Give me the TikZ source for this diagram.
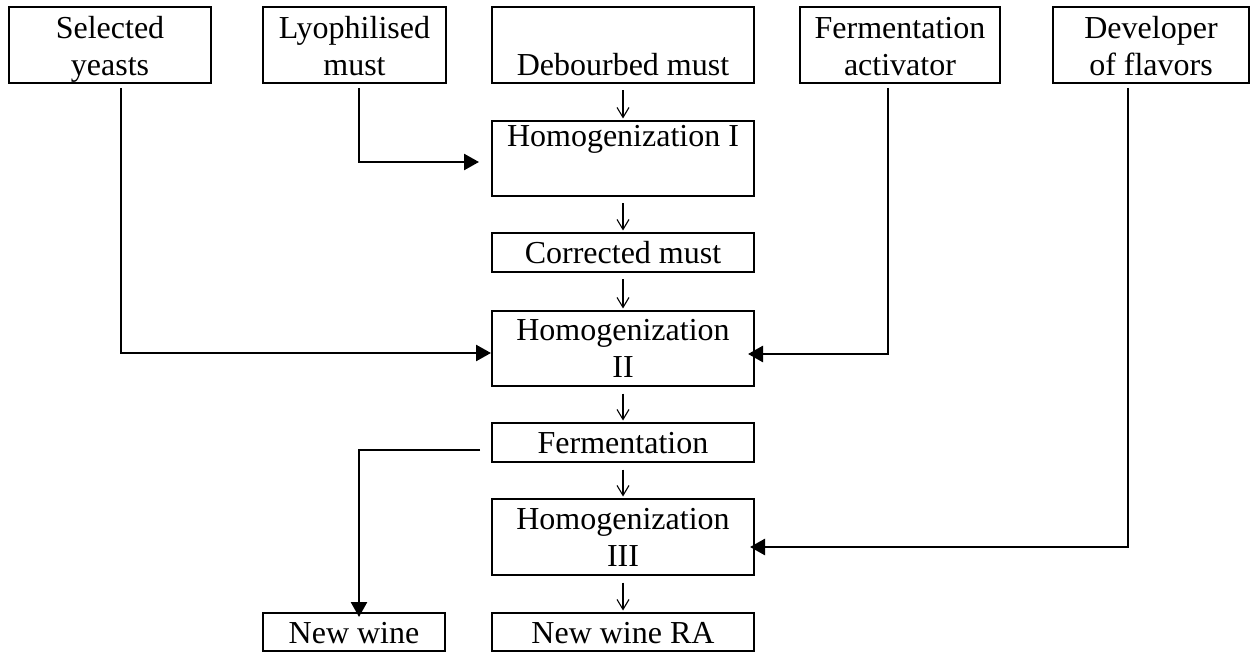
\documentclass[tikz,border=0pt]{standalone}
\usepackage{fontspec}
\setmainfont{Liberation Serif}
\usetikzlibrary{arrows.meta}

% two stacked lines, baseline on the first one
\newcommand{\twolines}[2]{\begin{tabular}[t]{@{}c@{}}#1\\#2\end{tabular}}

\tikzset{
  stage/.style={draw, line width=2.3pt, inner sep=0pt, outer sep=0pt,
    font=\fontsize{32}{37}\selectfont},
  feed/.style={stage, minimum height=0pt, text height=32pt, text depth=44pt},
  link/.style={line width=2.6pt, -{Triangle[length=15pt,width=16pt]}},
  flow/.style={line width=1.1pt, -{Straight Barb[length=10pt,width=12pt]},
    shorten <=7.5pt, shorten >=2.5pt},
}

\begin{document}
\begin{tikzpicture}[x=1pt, y=-1pt]
  \useasboundingbox (0,0) rectangle (1250,652);

  % inputs along the top
  \node[feed, minimum width=202pt] (sy) at (110,45)   {\twolines{Selected}{yeasts}};
  \node[feed, minimum width=183pt] (lm) at (354.5,45) {\twolines{Lyophilised}{must}};
  \node[stage, minimum width=262pt, text height=69pt, text depth=7pt]
                                   (dm) at (623,45)   {Debourbed must};
  \node[feed, minimum width=200pt] (fa) at (900,45)   {\twolines{Fermentation}{activator}};
  \node[feed, minimum width=196pt] (df) at (1151,45)  {\twolines{Developer}{of flavors}};

  % main process column
  \node[stage, minimum width=262pt, text height=26pt, text depth=49pt]
        (h1) at (623,158.5) {Homogenization I};
  \node[stage, minimum width=262pt, text height=31pt, text depth=8pt]
        (cm) at (623,252.5) {Corrected must};
  \node[stage, minimum width=262pt, text height=29pt, text depth=46pt]
        (h2) at (623,348.5) {\twolines{Homogenization}{II}};
  \node[stage, minimum width=262pt, text height=30pt, text depth=9pt]
        (fe) at (623,442.5) {Fermentation};
  \node[stage, minimum width=262pt, text height=30pt, text depth=46pt]
        (h3) at (623,537)   {\twolines{Homogenization}{III}};
  \node[stage, minimum width=262pt, text height=30pt, text depth=8pt]
        (nra) at (623,632)  {New wine RA};
  \node[stage, minimum width=182pt, text height=30pt, text depth=8pt]
        (nw) at (354,632)   {New wine};

  % steps down the column
  \draw[flow] (dm.south) -- (h1.north);
  \draw[flow] (h1.south) -- (cm.north);
  \draw[flow] (cm.south) -- (h2.north);
  \draw[flow] (h2.south) -- (fe.north);
  \draw[flow] (fe.south) -- (h3.north);
  \draw[flow] (h3.south) -- (nra.north);

  % additions fed into the column
  \draw[link] ([xshift=4.5pt,yshift=-5pt]lm.south) |- ([xshift=-13pt,yshift=-3.5pt]h1.west);
  \draw[link] ([xshift=11pt,yshift=-5pt]sy.south)  |- ([xshift=-1pt,yshift=-4.5pt]h2.west);
  \draw[link] ([xshift=-12pt,yshift=-5pt]fa.south) |- ([xshift=-6pt,yshift=-5.5pt]h2.east);
  \draw[link] ([xshift=-23pt,yshift=-5pt]df.south) |- ([xshift=-4pt,yshift=-10pt]h3.east);

  % branch off after fermentation
  \draw[link] ([xshift=-12pt,yshift=-7.5pt]fe.west) -| ([xshift=5pt,yshift=-4pt]nw.north);
\end{tikzpicture}
\end{document}
